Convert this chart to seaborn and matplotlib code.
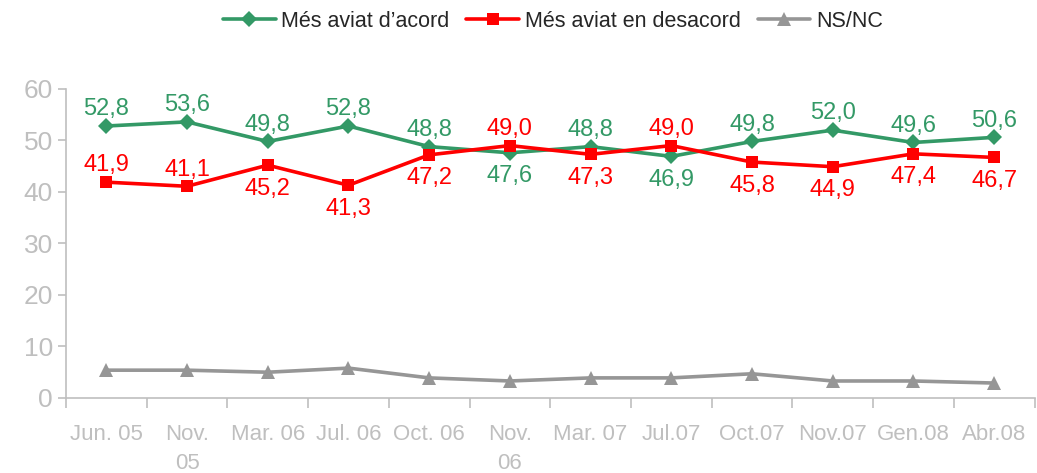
import matplotlib
matplotlib.use("Agg")
import matplotlib.pyplot as plt
import seaborn as sns
import pandas as pd
from matplotlib.ticker import FixedLocator

# --- DATA ---
periods = ["Jun. 05", "Nov.\n05", "Mar. 06", "Jul. 06", "Oct. 06", "Nov.\n06",
           "Mar. 07", "Jul.07", "Oct.07", "Nov.07", "Gen.08", "Abr.08"]
acord = [52.8, 53.6, 49.8, 52.8, 48.8, 47.6, 48.8, 46.9, 49.8, 52.0, 49.6, 50.6]
desacord = [41.9, 41.1, 45.2, 41.3, 47.2, 49.0, 47.3, 49.0, 45.8, 44.9, 47.4, 46.7]
nsnc = [5.4, 5.4, 5.0, 5.8, 3.9, 3.3, 3.9, 3.9, 4.7, 3.3, 3.3, 2.9]

# label side: 1 above, -1 below
acord_side = [1, 1, 1, 1, 1, -1, 1, -1, 1, 1, 1, 1]
desacord_side = [1, 1, -1, -1, -1, 1, -1, 1, -1, -1, -1, -1]

SERIES = [
    ("Més aviat d\u2019acord", acord, "#339966", "D", 8),
    ("Més aviat en desacord", desacord, "#ff0000", "s", 9),
    ("NS/NC", nsnc, "#969696", "^", 10),
]

sns.set_style("white")
plt.rcParams["font.family"] = ["Liberation Sans", "DejaVu Sans"]

fig = plt.figure(figsize=(10.37, 4.73), dpi=100)
ax = fig.add_axes([0.0636, 0.1586, 0.934, 0.6534])

x = list(range(len(periods)))
for name, vals, color, marker, ms in SERIES:
    df = pd.DataFrame({"x": x, "y": vals})
    sns.lineplot(data=df, x="x", y="y", ax=ax, color=color, linewidth=2.6,
                 marker=marker, markersize=ms, markeredgecolor=color,
                 markeredgewidth=0, label=name)

# data labels
for vals, sides, color in [(acord, acord_side, "#339966"), (desacord, desacord_side, "#ff0000")]:
    for i, (v, s) in enumerate(zip(vals, sides)):
        ax.annotate(f"{v:.1f}".replace(".", ","), (i, v), xytext=(0, 12 if s > 0 else -17),
                    textcoords="offset points", ha="center", va="center",
                    fontsize=17, color=color)

ax.set_xlim(-0.5, len(periods) - 0.5)
ax.set_ylim(0, 60)
ax.set_yticks(range(0, 61, 10))
ax.set_xticks(x)
ax.set_xticklabels(periods, fontsize=16, color="#bfbfbf", linespacing=1.45)
ax.tick_params(axis="y", labelsize=19, labelcolor="#bfbfbf", length=6, color="#bfbfbf",
               direction="out", left=True, width=1.2)
ax.tick_params(axis="x", which="major", length=0, pad=19)
ax.xaxis.set_minor_locator(FixedLocator([i - 0.5 for i in range(len(periods) + 1)]))
ax.tick_params(axis="x", which="minor", length=7, color="#bfbfbf", direction="out",
               bottom=True, width=1.2)
ax.set_xlabel("")
ax.set_ylabel("")

for side in ["top", "right"]:
    ax.spines[side].set_visible(False)
for side in ["left", "bottom"]:
    ax.spines[side].set_color("#bfbfbf")
    ax.spines[side].set_linewidth(1.2)

leg = ax.legend(loc="upper center", bbox_to_anchor=(0.533, 1.0), bbox_transform=fig.transFigure,
                ncol=3, frameon=False, fontsize=15.5, handlelength=2.45, handletextpad=0.25,
                columnspacing=0.8, borderaxespad=0.1)

fig.savefig("out.png", dpi=100)
